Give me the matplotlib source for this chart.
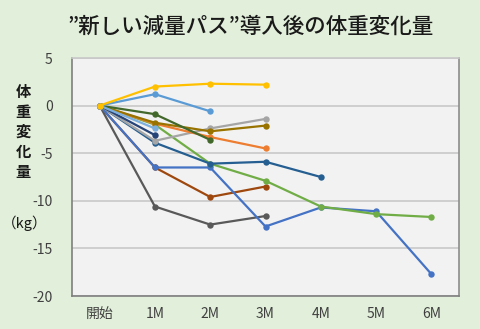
import matplotlib
matplotlib.use("Agg")
import matplotlib.pyplot as plt

plt.rcParams['font.family'] = ['Noto Sans CJK JP', 'DejaVu Sans']
plt.rcParams['axes.unicode_minus'] = False

# Category labels (start, then months)
months = ["開始", "1M", "2M", "3M", "4M", "5M", "6M"]

# Weight change per member (kg), measured from start
s_yellow = [0, 2.0, 2.3, 2.2]
s_skyblue = [0, 1.2, -0.6]
s_paleblue = [0, -2.4]
s_navy = [0, -3.1]
s_darkgreen = [0, -0.9, -3.6]
s_olive = [0, -1.8, -2.7, -2.1]
s_orange = [0, -1.9, -3.3, -4.5]
s_gray = [0, -3.7, -2.4, -1.4]
s_steel = [0, -3.9, -6.1, -5.9, -7.5]
s_green = [0, -2.0, -6.1, -7.9, -10.6, -11.4, -11.7]
s_blue = [0, -6.5, -6.5, -12.7, -10.7, -11.1, -17.7]
s_rust = [0, -6.5, -9.6, -8.5]
s_charcoal = [0, -10.6, -12.5, -11.6]

series = [
    (s_charcoal, "#595959"),
    (s_rust, "#9E480E"),
    (s_blue, "#4472C4"),
    (s_green, "#70AD47"),
    (s_steel, "#255E91"),
    (s_gray, "#A5A5A5"),
    (s_orange, "#ED7D31"),
    (s_olive, "#997300"),
    (s_darkgreen, "#43682B"),
    (s_navy, "#264478"),
    (s_paleblue, "#7CAFDD"),
    (s_skyblue, "#5B9BD5"),
    (s_yellow, "#FFC000"),
]

bg = "#E2EFDA"
fig = plt.figure(figsize=(4.8, 3.29), dpi=100, facecolor=bg)
ax = fig.add_axes([72 / 480, 1 - 296 / 329, (459 - 72) / 480, (296 - 58) / 329])
ax.set_facecolor("#F2F2F2")

for vals, col in series:
    ax.plot(range(len(vals)), vals, color=col, lw=1.6, marker="o", ms=4.6,
            markeredgewidth=0, solid_capstyle="round", zorder=3)

ax.set_xlim(-0.5, len(months) - 0.5)
ax.set_ylim(-20, 5)
ax.set_yticks([5, 0, -5, -10, -15, -20])
ax.set_xticks(range(len(months)))
ax.set_xticklabels(months)
ax.yaxis.grid(True, color="#C8C8C8", lw=1.2, zorder=1)
ax.set_axisbelow(True)
ax.tick_params(length=0, labelsize=10, colors="#404040")
ax.tick_params(axis="x", pad=8)
ax.tick_params(axis="y", pad=14)
for side in ax.spines.values():
    side.set_color("#7F7F7F")
    side.set_linewidth(1.2)
ax.spines["top"].set_color("#C8C8C8")
ax.spines["right"].set_color("#8C8C8C")

fig.text(251 / 480, 1 - 27 / 329, "”新しい減量パス”導入後の体重変化量",
         ha="center", va="center", fontsize=15.5, fontweight="medium", color="#1A1A1A")
fig.text(23 / 480, 1 - 132 / 329, "体\n重\n変\n化\n量", ha="center", va="center",
         fontsize=11, fontweight="bold", color="#1A1A1A", linespacing=1.32)
fig.text(25 / 480, 1 - 223 / 329, "（kg）", ha="center", va="center",
         fontsize=10.5, color="#1A1A1A")

fig.savefig("out.png", dpi=100, facecolor=bg)
